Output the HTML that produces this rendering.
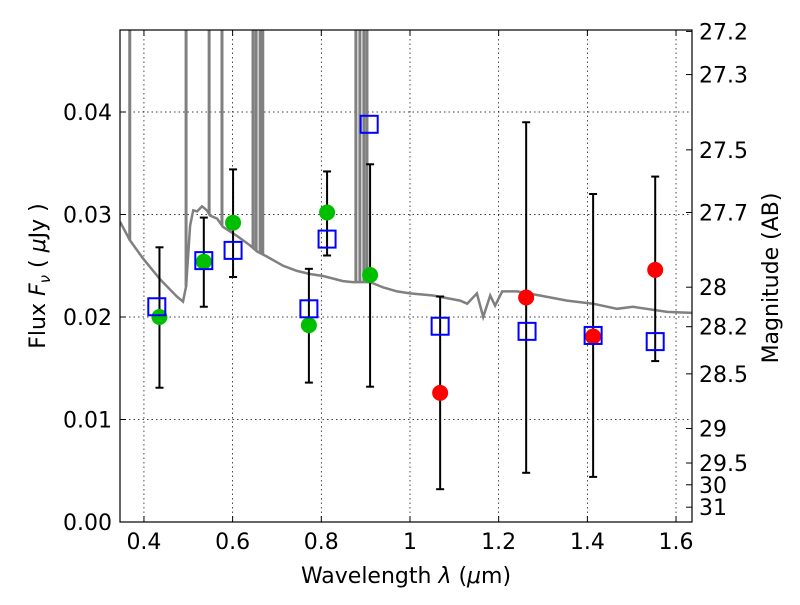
<!DOCTYPE html>
<html><head><meta charset="utf-8"><style>
body{margin:0;background:#fff}
svg text{font-family:"DejaVu Sans","Liberation Sans",sans-serif;fill:#000}
</style></head><body>
<svg id="chart" width="800" height="600" xmlns="http://www.w3.org/2000/svg">
<g id="grid"></g>
<g id="plot"></g>
<g id="axes"></g>
</svg>
<script>
const specLam=[0.346,0.368,0.398,0.436,0.474,0.488,0.495,0.504,0.511,0.520,0.531,0.542,0.549,0.565,0.578,0.610,0.639,0.655,0.677,0.714,0.745,0.774,0.804,0.849,0.871,0.910,0.939,0.971,1.000,1.052,1.113,1.129,1.151,1.165,1.181,1.192,1.208,1.241,1.293,1.354,1.413,1.467,1.503,1.580,1.636];
const specFlux=[0.0293,0.0275,0.0257,0.0237,0.0220,0.0215,0.0230,0.0289,0.0304,0.0303,0.0308,0.0304,0.0299,0.0296,0.0288,0.0279,0.0270,0.0264,0.0259,0.0250,0.0245,0.0242,0.0240,0.0235,0.0234,0.0234,0.0229,0.0225,0.0223,0.0221,0.0216,0.0213,0.0223,0.0200,0.0221,0.0211,0.0225,0.0225,0.0221,0.0216,0.0213,0.0208,0.0210,0.0205,0.0204];
const spikeLam=[0.368,0.495,0.547,0.576,0.646,0.653,0.662,0.668,0.878,0.887,0.896,0.903];
const greenLam=[0.435,0.535,0.601,0.772,0.813,0.910];
const greenFlux=[0.0200,0.0254,0.0292,0.0192,0.0302,0.0241];
const redLam=[1.068,1.262,1.413,1.553];
const redFlux=[0.0126,0.0219,0.0181,0.0246];
const blueLam=[0.429,0.535,0.601,0.772,0.813,0.908,1.068,1.264,1.413,1.553];
const blueFlux=[0.0210,0.0255,0.0265,0.0208,0.0276,0.0388,0.0191,0.0186,0.0182,0.0176];
const errLam=[0.435,0.535,0.601,0.772,0.813,0.910,1.068,1.262,1.413,1.553];
const errLo=[0.0131,0.0210,0.0239,0.0136,0.0260,0.0132,0.0032,0.0048,0.0044,0.0157];
const errHi=[0.0268,0.0297,0.0344,0.0247,0.0342,0.0349,0.0220,0.0390,0.0320,0.0337];
const xTicks=[0.4,0.6,0.8,1.0,1.2,1.4,1.6];
const xTickLabels=["0.4","0.6","0.8","1","1.2","1.4","1.6"];
const yTicks=[0,0.01,0.02,0.03,0.04];
const yTickLabels=["0.00","0.01","0.02","0.03","0.04"];
const magTicks=[27.2,27.3,27.5,27.7,28,28.2,28.5,29,29.5,30,31];
const magTickLabels=["27.2","27.3","27.5","27.7","28","28.2","28.5","29","29.5","30","31"];

const L=120,R=692,T=30,B=522;
const X0=0.346,X1=1.636,Y0=0,Y1=0.0480;
const sx=v=>L+(v-X0)/(X1-X0)*(R-L);
const sy=v=>B-(v-Y0)/(Y1-Y0)*(B-T);
const magToFlux=m=>Math.pow(10,(23.9-m)/2.5);
const NS="http://www.w3.org/2000/svg";
function mk(tag,attrs,parent){const e=document.createElementNS(NS,tag);for(const k in attrs)e.setAttribute(k,attrs[k]);parent.appendChild(e);return e;}
const grid=document.getElementById('grid'),plot=document.getElementById('plot'),axes=document.getElementById('axes');

const defs=mk('defs',{},document.getElementById('chart'));
const cp=mk('clipPath',{id:'clip'},defs);mk('rect',{x:L,y:T,width:R-L,height:B-T},cp);
plot.setAttribute('clip-path','url(#clip)');

xTicks.forEach((v,i)=>{
  const gl=mk('line',{x1:sx(v),x2:sx(v),y1:T,y2:B,stroke:'#000','stroke-width':0.7,'stroke-dasharray':'1.5,3'},grid);
  
  mk('line',{x1:sx(v),x2:sx(v),y1:B,y2:B-6,stroke:'#000'},axes);
  mk('line',{x1:sx(v),x2:sx(v),y1:T,y2:T+6,stroke:'#000'},axes);
  const t=mk('text',{x:sx(v),y:B+27,'text-anchor':'middle','font-size':22},axes);t.textContent=xTickLabels[i];
  
});
yTicks.forEach((v,i)=>{
  if(v>0){const gl=mk('line',{x1:L,x2:R,y1:sy(v),y2:sy(v),stroke:'#000','stroke-width':0.7,'stroke-dasharray':'1.5,3'},grid);
  }
  mk('line',{x1:L,x2:L+6,y1:sy(v),y2:sy(v),stroke:'#000'},axes);
  const t=mk('text',{x:L-8,y:sy(v)+8,'text-anchor':'end','font-size':22},axes);t.textContent=yTickLabels[i];
  
});
magTicks.forEach((m,i)=>{
  const y=sy(magToFlux(m));
  mk('line',{x1:R-6,x2:R,y1:y,y2:y,stroke:'#000'},axes);
  const t=mk('text',{x:R+7,y:y+8,'font-size':22},axes);t.textContent=magTickLabels[i];
  
});

let d='';specLam.forEach((l,i)=>{d+=(i?'L':'M')+sx(l).toFixed(1)+','+sy(specFlux[i]).toFixed(1);});
const sp=mk('path',{d:d,fill:'none',stroke:'#808080','stroke-width':2.5},plot);

function interp(l){for(let i=1;i<specLam.length;i++){if(l<=specLam[i]){const f=(l-specLam[i-1])/(specLam[i]-specLam[i-1]);return specFlux[i-1]+f*(specFlux[i]-specFlux[i-1]);}}return specFlux[specFlux.length-1];}
spikeLam.forEach(l=>{
  const s=mk('line',{x1:sx(l),x2:sx(l),y1:sy(interp(l)),y2:T-5,stroke:'#808080','stroke-width':3},plot);
  
});
errLam.forEach((l,i)=>{
  const x=sx(l);
  const g=mk('g',{stroke:'#000','stroke-width':2},plot);
  
  mk('line',{x1:x,x2:x,y1:sy(errLo[i]),y2:sy(errHi[i])},g);
  mk('line',{x1:x-4,x2:x+4,y1:sy(errLo[i]),y2:sy(errLo[i])},g);
  mk('line',{x1:x-4,x2:x+4,y1:sy(errHi[i]),y2:sy(errHi[i])},g);
});
greenLam.forEach((l,i)=>{
  const c=mk('circle',{cx:sx(l),cy:sy(greenFlux[i]),r:8,fill:'#00bf00'},plot);
  
});
redLam.forEach((l,i)=>{
  const c=mk('circle',{cx:sx(l),cy:sy(redFlux[i]),r:8,fill:'#ff0000'},plot);
  
});
blueLam.forEach((l,i)=>{
  const r=mk('rect',{x:sx(l)-8.5,y:sy(blueFlux[i])-8.5,width:17,height:17,fill:'none',stroke:'#0000ff','stroke-width':2},plot);
  
});
const fr=mk('rect',{x:L,y:T,width:R-L,height:B-T,fill:'none',stroke:'#000','stroke-width':1.2},axes);

</script>
<svg style="position:absolute;left:0;top:0" width="800" height="600">
<text x="406" y="583" text-anchor="middle" font-size="22">Wavelength  <tspan font-style="italic">λ</tspan> (<tspan font-style="italic">μ</tspan>m)</text>
<text transform="translate(45,276) rotate(-90)" text-anchor="middle" font-size="22">Flux  <tspan font-style="italic">F</tspan><tspan font-style="italic" font-size="15" dy="5">ν</tspan><tspan dy="-5">  (  </tspan><tspan font-style="italic">μ</tspan>Jy )</text>
<text transform="translate(778,278) rotate(-90)" text-anchor="middle" font-size="22">Magnitude (AB)</text>
</svg>
</body></html>
